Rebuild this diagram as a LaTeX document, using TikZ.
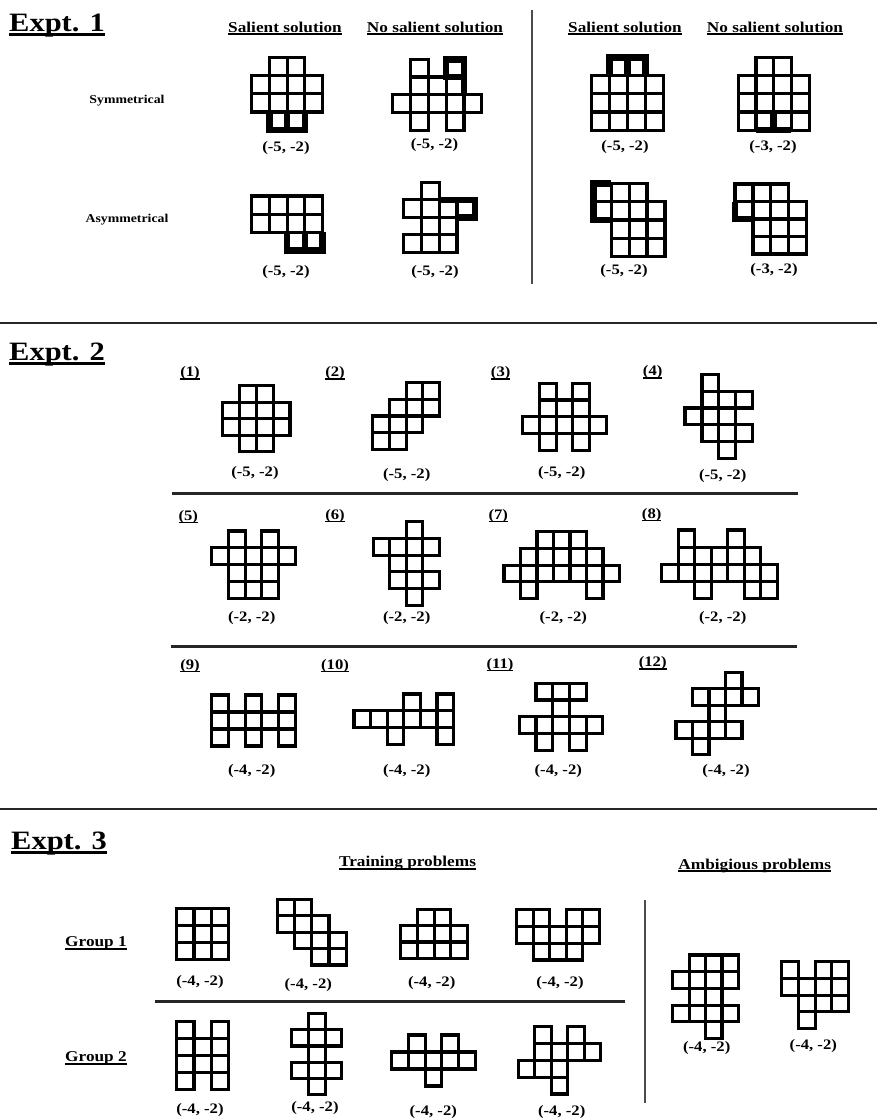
\documentclass[tikz,border=0pt]{standalone}
\usepackage{fontspec}
\setmainfont{Liberation Serif}[FakeStretch=1.15]
\newcommand{\myul}[3]{\setbox0\hbox{#3}\rlap{\rule[-#1]{\wd0}{#2}}\box0}
\newcommand{\mfig}[6]{%
 \begin{scope}[shift={(#1,#2)},x=#3pt,y=-#4pt]
 \foreach \cx/\cy in {#5}{\draw[cell] (\cx,\cy) rectangle ++(1,1);}
 #6
 \end{scope}}
\tikzset{
 cell/.style={line width=3.2pt, line join=miter},
 hl/.style={line width=6.5pt, line join=miter},
 title/.style={font=\fontsize{26.5}{30}\selectfont\bfseries, inner sep=0pt},
 head/.style={font=\fontsize{15}{18}\selectfont\bfseries, inner sep=0pt},
 lab/.style={font=\fontsize{14.5}{17}\selectfont\bfseries, inner sep=0pt},
 rowlab/.style={font=\fontsize{12}{14}\selectfont\bfseries, inner sep=0pt},
 sep/.style={line width=2.5pt, draw=black!85},
 vsep/.style={line width=1.6pt, draw=black!70},
}
\begin{document}
\begin{tikzpicture}[x=1pt,y=-1pt]
\path[use as bounding box, fill=white] (0,0) rectangle (877,1119);

% ---------- section separators ----------
\coordinate (s1a) at (0,323); \coordinate (s1b) at (877,323);
\coordinate (s2a) at (0,809); \coordinate (s2b) at (877,809);
\draw[sep] (s1a) -- (s1b);
\draw[sep] (s2a) -- (s2b);

% ---------- Expt. 1 ----------
\node[title, anchor=base west] (t1) at (9,31) {\myul{4.5pt}{2.5pt}{Expt. 1}};
\node[head, anchor=base] (h1) at (285,32) {\myul{3pt}{1.6pt}{Salient solution}};
\node[head, anchor=base] (h2) at (435,32) {\myul{3pt}{1.6pt}{No salient solution}};
\node[head, anchor=base] (h3) at (625,32) {\myul{3pt}{1.6pt}{Salient solution}};
\node[head, anchor=base] (h4) at (775,32) {\myul{3pt}{1.6pt}{No salient solution}};
\node[rowlab] (r1) at (127,101) {Symmetrical};
\node[rowlab] (r2) at (127,220) {Asymmetrical};
\coordinate (v1a) at (532,10); \coordinate (v1b) at (532,284);
\draw[vsep] (v1a) -- (v1b);

\mfig{251.7}{57.3}{17.7}{18.2}{1/0,2/0,0/1,1/1,2/1,3/1,0/2,1/2,2/2,3/2,1/3,2/3}{\draw[hl] (1,3)--(1,4)--(3,4)--(3,3); \draw[hl] (2,3)--(2,4);}
\mfig{392.7}{59.3}{17.8}{17.7}{1/0,3/0,1/1,2/1,3/1,0/2,1/2,2/2,3/2,4/2,1/3,3/3}{\draw[hl] (3,0) rectangle (4,1); \draw[hl] (4,1)--(4,2);}
\mfig{251.7}{196}{17.7}{18.2}{0/0,1/0,2/0,3/0,0/1,1/1,2/1,3/1,2/2,3/2}{\draw[hl] (2,2)--(2,3)--(4,3)--(4,2); \draw[hl] (3,2)--(3,3);}
\mfig{403.3}{182.3}{17.9}{17.5}{1/0,0/1,1/1,2/1,3/1,1/2,2/2,0/3,1/3,2/3}{\draw[hl] (2,1)--(4,1)--(4,2)--(3,2);}
\mfig{591.7}{57.3}{17.9}{18.2}{1/0,2/0,0/1,1/1,2/1,3/1,0/2,1/2,2/2,3/2,0/3,1/3,2/3,3/3}{\draw[hl] (1,1)--(1,0)--(3,0)--(3,1); \draw[hl] (2,0)--(2,1);}
\mfig{738.3}{57.3}{17.7}{18.2}{1/0,2/0,0/1,1/1,2/1,3/1,0/2,1/2,2/2,3/2,0/3,1/3,2/3,3/3}{\draw[hl] (1,4)--(3,4); \draw[hl] (2,3)--(2,4);}
\mfig{593.3}{183.3}{17.9}{18.3}{0/0,1/0,2/0,0/1,1/1,2/1,3/1,1/2,2/2,3/2,1/3,2/3,3/3}{\draw[hl] (1,0)--(0,0)--(0,2)--(1,2);}
\mfig{735}{184}{17.9}{17.5}{0/0,1/0,2/0,0/1,1/1,2/1,3/1,1/2,2/2,3/2,1/3,2/3,3/3}{\draw[hl] (0,1)--(0,2)--(1,2);}

\node[lab] (eA) at (286,148) {(-5, -2)};
\node[lab] (eB) at (434.5,145) {(-5, -2)};
\node[lab] (eC) at (286,272) {(-5, -2)};
\node[lab] (eD) at (435,272) {(-5, -2)};
\node[lab] (eE) at (625,147) {(-5, -2)};
\node[lab] (eF) at (773,147) {(-3, -2)};
\node[lab] (eG) at (624,271) {(-5, -2)};
\node[lab] (eH) at (774,270) {(-3, -2)};

% ---------- Expt. 2 ----------
\node[title, anchor=base west] (t2) at (9,360) {\myul{4.5pt}{2.5pt}{Expt. 2}};
\coordinate (ra1) at (172,493.5); \coordinate (rb1) at (798,493.5);
\coordinate (ra2) at (171,646.7); \coordinate (rb2) at (797,646.7);
\draw[sep] (ra1) -- (rb1);
\draw[sep] (ra2) -- (rb2);

\node[lab, anchor=base] (n1) at (190,376.7) {\myul{3pt}{1.5pt}{(1)}};
\node[lab, anchor=base] (n2) at (335,376.7) {\myul{3pt}{1.5pt}{(2)}};
\node[lab, anchor=base] (n3) at (500.7,376.7) {\myul{3pt}{1.5pt}{(3)}};
\node[lab, anchor=base] (n4) at (652.7,375.7) {\myul{3pt}{1.5pt}{(4)}};
\node[lab, anchor=base] (n5) at (188.3,520) {\myul{3pt}{1.5pt}{(5)}};
\node[lab, anchor=base] (n6) at (335,519) {\myul{3pt}{1.5pt}{(6)}};
\node[lab, anchor=base] (n7) at (498.3,519) {\myul{3pt}{1.5pt}{(7)}};
\node[lab, anchor=base] (n8) at (651.7,518) {\myul{3pt}{1.5pt}{(8)}};
\node[lab, anchor=base] (n9) at (190,669) {\myul{3pt}{1.5pt}{(9)}};
\node[lab, anchor=base] (n10) at (335,669) {\myul{3pt}{1.5pt}{(10)}};
\node[lab, anchor=base] (n11) at (500,668) {\myul{3pt}{1.5pt}{(11)}};
\node[lab, anchor=base] (n12) at (652.7,666.7) {\myul{3pt}{1.5pt}{(12)}};

\mfig{222.7}{385.7}{16.8}{16.5}{1/0,2/0,0/1,1/1,2/1,3/1,0/2,1/2,2/2,3/2,1/3,2/3}{}
\mfig{372.7}{382.3}{16.7}{16.8}{2/0,3/0,1/1,2/1,3/1,0/2,1/2,2/2,0/3,1/3}{}
\mfig{522.7}{383.3}{16.7}{16.7}{1/0,3/0,1/1,2/1,3/1,0/2,1/2,2/2,3/2,4/2,1/3,3/3}{}
\mfig{685}{374.3}{16.9}{16.8}{1/0,1/1,2/1,3/1,0/2,1/2,2/2,1/3,2/3,3/3,2/4}{}
\mfig{211.7}{531}{16.7}{16.8}{1/0,3/0,0/1,1/1,2/1,3/1,4/1,1/2,2/2,3/2,1/3,2/3,3/3}{}
\mfig{373.3}{521.7}{16.5}{16.7}{2/0,0/1,1/1,2/1,3/1,1/2,2/2,1/3,2/3,3/3,2/4}{}
\mfig{504}{531.7}{16.5}{16.7}{2/0,3/0,4/0,1/1,2/1,3/1,4/1,5/1,0/2,1/2,2/2,3/2,4/2,5/2,6/2,1/3,5/3}{}
\mfig{661.7}{530}{16.5}{17.1}{1/0,4/0,1/1,2/1,3/1,4/1,5/1,0/2,1/2,2/2,3/2,4/2,5/2,6/2,2/3,5/3,6/3}{}
\mfig{211.7}{695}{16.7}{17}{0/0,2/0,4/0,0/1,1/1,2/1,3/1,4/1,0/2,2/2,4/2}{}
\mfig{354}{694}{16.6}{16.7}{3/0,5/0,0/1,1/1,2/1,3/1,4/1,5/1,2/2,5/2}{}
\mfig{519.3}{683.3}{16.7}{16.7}{1/0,2/0,3/0,2/1,0/2,1/2,2/2,3/2,4/2,1/3,3/3}{}
\mfig{676}{672.3}{16.5}{16.5}{3/0,1/1,2/1,3/1,4/1,2/2,0/3,1/3,2/3,3/3,1/4}{}

\node[lab] (x1) at (255,473.3) {(-5, -2)};
\node[lab] (x2) at (406.7,475) {(-5, -2)};
\node[lab] (x3) at (561.7,473.3) {(-5, -2)};
\node[lab] (x4) at (722.7,475.7) {(-5, -2)};
\node[lab] (x5) at (251.7,618.3) {(-2, -2)};
\node[lab] (x6) at (406.7,618.3) {(-2, -2)};
\node[lab] (x7) at (563.3,618.3) {(-2, -2)};
\node[lab] (x8) at (722.7,618.3) {(-2, -2)};
\node[lab] (x9) at (251.7,770.7) {(-4, -2)};
\node[lab] (x10) at (406.7,770.7) {(-4, -2)};
\node[lab] (x11) at (558.3,770.7) {(-4, -2)};
\node[lab] (x12) at (726,770.7) {(-4, -2)};

% ---------- Expt. 3 ----------
\node[title, anchor=base west] (t3) at (11,849) {\myul{4.5pt}{2.5pt}{Expt. 3}};
\node[head, anchor=base] (h5) at (407.5,866.7) {\myul{3pt}{1.6pt}{Training problems}};
\node[head, anchor=base] (h6) at (754.7,869) {\myul{3pt}{1.6pt}{Ambigious problems}};
\node[head, anchor=base] (g1) at (96,946.7) {\myul{3pt}{1.6pt}{Group 1}};
\node[head, anchor=base] (g2) at (96,1061.7) {\myul{3pt}{1.6pt}{Group 2}};
\coordinate (ga) at (155,1001.7); \coordinate (gb) at (625,1001.7);
\draw[sep] (ga) -- (gb);
\coordinate (v2a) at (645,900); \coordinate (v2b) at (645,1103);
\draw[vsep] (v2a) -- (v2b);

\mfig{176.7}{908.3}{17.2}{17}{0/0,1/0,2/0,0/1,1/1,2/1,0/2,1/2,2/2}{}
\mfig{277.3}{899.3}{17.2}{16.4}{0/0,1/0,0/1,1/1,2/1,1/2,2/2,3/2,2/3,3/3}{}
\mfig{400.7}{909.3}{16.7}{16.3}{1/0,2/0,0/1,1/1,2/1,3/1,0/2,1/2,2/2,3/2}{}
\mfig{516.7}{909.3}{16.5}{16.9}{0/0,1/0,3/0,4/0,0/1,1/1,2/1,3/1,4/1,1/2,2/2,3/2}{}
\mfig{176.7}{1021.7}{17.2}{16.9}{0/0,2/0,0/1,1/1,2/1,0/2,1/2,2/2,0/3,2/3}{}
\mfig{291.7}{1013.3}{16.7}{16.3}{1/0,0/1,1/1,2/1,1/2,0/3,1/3,2/3,1/4}{}
\mfig{391.7}{1035}{16.7}{17}{1/0,3/0,0/1,1/1,2/1,3/1,4/1,2/2}{}
\mfig{518.3}{1026.7}{16.5}{16.8}{1/0,3/0,1/1,2/1,3/1,4/1,0/2,1/2,2/2,2/3}{}
\mfig{672.7}{955}{16.4}{16.7}{1/0,2/0,3/0,0/1,1/1,2/1,3/1,1/2,2/2,0/3,1/3,2/3,3/3,2/4}{}
\mfig{781.7}{961.7}{16.7}{16.7}{0/0,2/0,3/0,0/1,1/1,2/1,3/1,1/2,2/2,3/2,1/3}{}

\node[lab] (y1) at (200,981.7) {(-4, -2)};
\node[lab] (y2) at (308.3,985) {(-4, -2)};
\node[lab] (y3) at (431.7,982.7) {(-4, -2)};
\node[lab] (y4) at (560,982.7) {(-4, -2)};
\node[lab] (y5) at (200,1110) {(-4, -2)};
\node[lab] (y6) at (315,1108.3) {(-4, -2)};
\node[lab] (y7) at (433.3,1111.7) {(-4, -2)};
\node[lab] (y8) at (561.7,1111.7) {(-4, -2)};
\node[lab] (y9) at (706.7,1048) {(-4, -2)};
\node[lab] (y10) at (813.3,1046) {(-4, -2)};
\end{tikzpicture}
\end{document}
